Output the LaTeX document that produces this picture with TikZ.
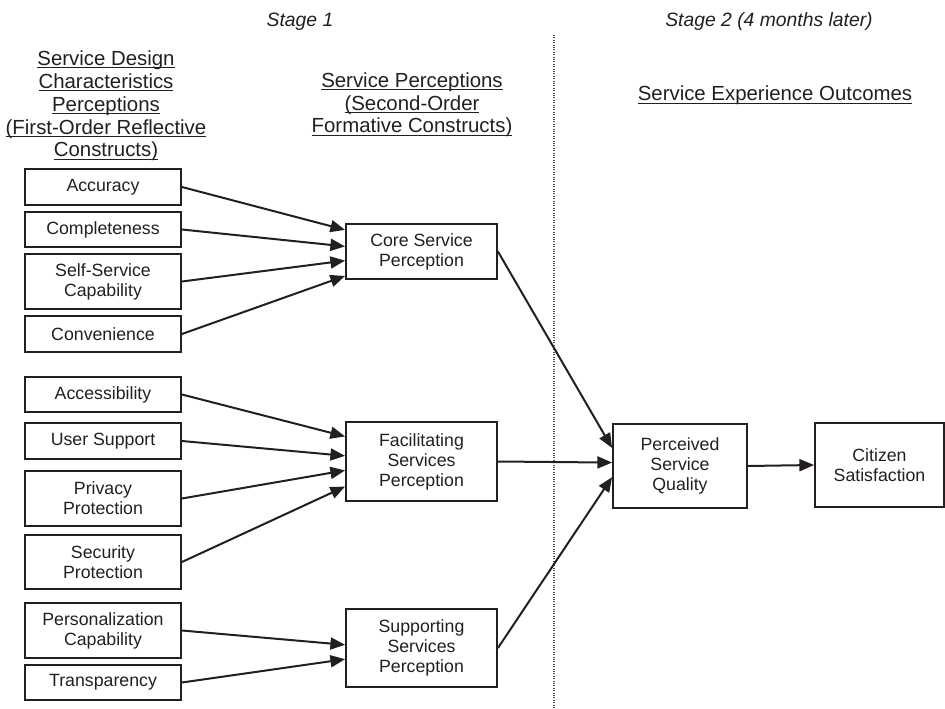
\documentclass[tikz,border=0pt]{standalone}
\usepackage{fontspec}
\setmainfont{Liberation Sans}
\usetikzlibrary{arrows.meta,calc}
\definecolor{ink}{HTML}{231F20}
\newcommand\ulx[1]{\leavevmode\setbox0=\hbox{#1}\rlap{\rule[-2.2pt]{\wd0}{0.9pt}}\box0}
\begin{document}
\begin{tikzpicture}[x=0.75pt,y=-0.75pt,
  box/.style={draw=ink,line width=1.4pt,text=ink,align=center,inner sep=0pt,
    font=\fontsize{13.3}{15}\selectfont},
  lbox/.style={box,minimum width=117pt},
  mbox/.style={box,minimum width=113.25pt},
  arr/.style={draw=ink,line width=1.5pt,-{Triangle[length=11pt,width=9pt]}},
  hdr/.style={text=ink,align=center,anchor=base,font=\fontsize{15.3}{17.2}\selectfont},
  stage/.style={text=ink,anchor=base,font=\fontsize{14.5}{16}\selectfont\itshape},
  divider/.style={draw=ink!80,line width=0.8pt,densely dotted}]
\useasboundingbox (0,0) rectangle (945,709);

% headers
\node[stage] (st1) at (300,27) {Stage 1};
\node[stage] (st2) at (769,27) {Stage 2 (4 months later)};
\node[hdr] (h1) at (106,157) {\ulx{Service Design}\\\ulx{Characteristics}\\\ulx{Perceptions}\\\ulx{(First-Order Reflective}\\\ulx{Constructs)}};
\node[hdr] (h2) at (412,133) {\ulx{Service Perceptions}\\\ulx{(Second-Order}\\\ulx{Formative Constructs)}};
\node[hdr] (h3) at (775,101) {\ulx{Service Experience Outcomes}};

% divider
\coordinate (dtop) at (554,35);
\coordinate (dbot) at (554,709);
\draw[divider] (dtop) -- (dbot);

% left column
\node[lbox,minimum height=27pt] (acc) at (103,187) {Accuracy};
\node[lbox,minimum height=26.25pt] (comp) at (103,229.5) {Completeness};
\node[lbox,minimum height=41.25pt] (self) at (103,281.5) {Self-Service\\Capability};
\node[lbox,minimum height=27pt] (conv) at (103,334) {Convenience};
\node[lbox,minimum height=26.25pt] (accs) at (103,394.5) {Accessibility};
\node[lbox,minimum height=27pt] (usr) at (103,441) {User Support};
\node[lbox,minimum height=41.25pt] (priv) at (103,498.5) {Privacy\\Protection};
\node[lbox,minimum height=40.5pt] (sec) at (103,562) {Security\\Protection};
\node[lbox,minimum height=41.25pt] (pers) at (103,630.5) {Personalization\\Capability};
\node[lbox,minimum height=26.25pt] (trans) at (103,682.5) {Transparency};

% middle column
\node[mbox,minimum height=41.25pt] (core) at (421.5,251.5) {Core Service\\Perception};
\node[mbox,minimum height=59.25pt] (fac) at (421.5,461.5) {Facilitating\\Services\\Perception};
\node[mbox,minimum height=58.5pt] (sup) at (421.5,648) {Supporting\\Services\\Perception};

% right column
\node[box,minimum width=100.5pt,minimum height=63pt] (perc) at (680,466) {Perceived\\Service\\Quality};
\node[box,minimum width=96.75pt,minimum height=63pt] (cit) at (879.5,465) {Citizen\\Satisfaction};

% arrows into core
\draw[arr] (acc.east) -- ($(core.north west)!0.12!(core.south west)$);
\draw[arr] (comp.east) -- ($(core.north west)!0.41!(core.south west)$);
\draw[arr] (self.east) -- ($(core.north west)!0.66!(core.south west)$);
\draw[arr] (conv.east) -- ($(core.north west)!0.93!(core.south west)$);
% arrows into facilitating
\draw[arr] (accs.east) -- ($(fac.north west)!0.19!(fac.south west)$);
\draw[arr] (usr.east) -- ($(fac.north west)!0.43!(fac.south west)$);
\draw[arr] (priv.east) -- ($(fac.north west)!0.61!(fac.south west)$);
\draw[arr] (sec.east) -- ($(fac.north west)!0.81!(fac.south west)$);
% arrows into supporting
\draw[arr] (pers.east) -- ($(sup.north west)!0.46!(sup.south west)$);
\draw[arr] (trans.east) -- ($(sup.north west)!0.64!(sup.south west)$);
% arrows into perceived quality
\draw[arr] (core.east) -- ($(perc.north west)!0.29!(perc.south west)$);
\draw[arr] (fac.east) -- ($(perc.north west)!0.46!(perc.south west)$);
\draw[arr] (sup.east) -- ($(perc.north west)!0.63!(perc.south west)$);
\draw[arr] (perc.east) -- (cit.west);
\end{tikzpicture}
\end{document}
